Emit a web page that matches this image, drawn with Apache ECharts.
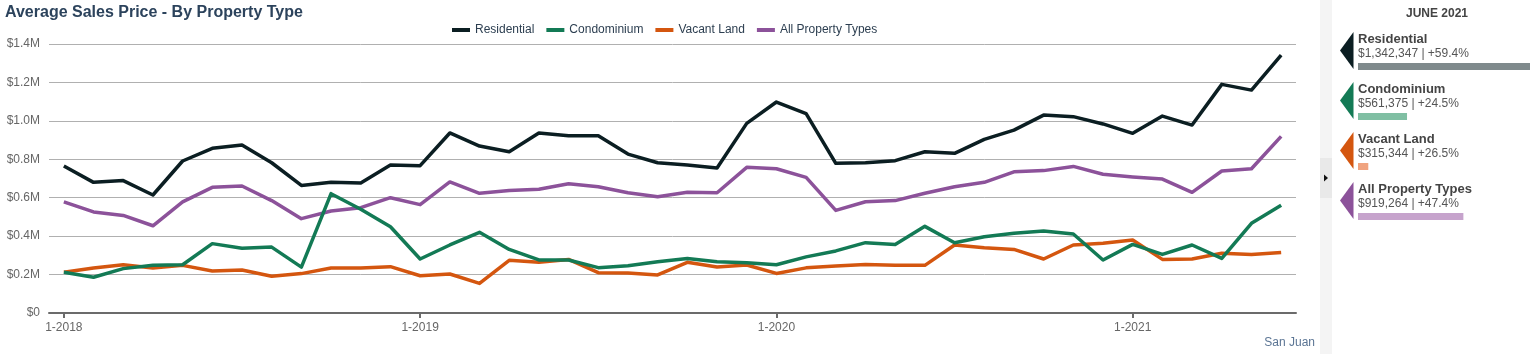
<!DOCTYPE html>
<html>
<head>
<meta charset="utf-8">
<script src="https://cdn.jsdelivr.net/npm/echarts@6/dist/echarts.min.js"></script>
<style>
html,body{margin:0;padding:0;background:#fff;}
#c{width:1535px;height:354px;}
</style>
</head>
<body>
<div id="c"></div>
<script>
const months = ["1-2018","2-2018","3-2018","4-2018","5-2018","6-2018","7-2018","8-2018","9-2018","10-2018","11-2018","12-2018",
"1-2019","2-2019","3-2019","4-2019","5-2019","6-2019","7-2019","8-2019","9-2019","10-2019","11-2019","12-2019",
"1-2020","2-2020","3-2020","4-2020","5-2020","6-2020","7-2020","8-2020","9-2020","10-2020","11-2020","12-2020",
"1-2021","2-2021","3-2021","4-2021","5-2021","6-2021"];

const residential = [765000,680000,689000,614000,791000,857000,874000,782000,664000,680000,677000,770000,
767000,937000,869000,839000,937000,923000,923000,827000,782000,770000,755000,987000,
1098000,1038000,779000,782000,793000,839000,831000,904000,952000,1030000,1022000,984000,
935000,1025000,978000,1190000,1160000,1342347];
const condominium = [212000,186000,231000,248000,251000,361000,337000,343000,239000,621000,540000,449000,
281000,354000,420000,331000,276000,276000,236000,246000,267000,284000,267000,262000,
251000,292000,323000,366000,357000,451000,366000,397000,415000,427000,411000,276000,
357000,305000,354000,284000,467000,561375];
const vacantLand = [212000,234000,251000,234000,248000,219000,224000,191000,205000,234000,234000,241000,
194000,203000,154000,274000,264000,279000,210000,208000,198000,264000,239000,250000,
206000,235000,245000,253000,248000,248000,354000,340000,331000,281000,354000,363000,
380000,279000,281000,311000,305000,315344];
const allTypes = [578000,526000,508000,454000,578000,654000,661000,585000,491000,531000,548000,600000,
564000,682000,623000,638000,644000,673000,657000,626000,605000,628000,626000,758000,
751000,706000,534000,579000,585000,623000,657000,680000,735000,741000,763000,722000,
708000,697000,628000,739000,751000,919264];

const seriesNames = ["Residential","Condominium","Vacant Land","All Property Types"];
const seriesColors = ["#0b1e22","#137a55","#d4560f","#8c529a"];
const barColors = ["#7f8a8c","#80bfa3","#f0a37f","#c6a3cc"];
const latestValues = [1342347,561375,315344,919264];
const latestChange = ["+59.4%","+24.5%","+26.5%","+47.4%"];
const panelTitle = "JUNE 2021";
const footnote = "San Juan";

const chart = echarts.init(document.getElementById('c'), null, {renderer:'canvas'});
const allData = [residential, condominium, vacantLand, allTypes];
const font = '"Liberation Sans", Arial, sans-serif';

function money(v){ return '$' + v.toString().replace(/\B(?=(\d{3})+(?!\d))/g, ','); }

const series = seriesNames.map((n,i)=>({
  name:n, type:'line', data:allData[i], xAxisIndex:0, yAxisIndex:0,
  showSymbol:false, symbol:'none', lineStyle:{width:3.5, color:seriesColors[i], join:'round'}, itemStyle:{color:seriesColors[i]},
  z: 10 - i, animation:false
}));
series.push({
  type:'bar', xAxisIndex:1, yAxisIndex:1, barWidth:7, animation:false, silent:true,
  data: latestValues.map((v,i)=>({value:v, itemStyle:{color:barColors[i]}}))
});

const graphics = [
  {type:'rect', shape:{x:1320, y:0, width:12, height:354}, style:{fill:'#f4f4f4'}},
  {type:'rect', shape:{x:1320, y:158, width:12, height:40}, style:{fill:'#e9e9e9'}},
  {type:'polygon', shape:{points:[[1324,174.5],[1328,178],[1324,181.5]]}, style:{fill:'#111'}},
  {type:'text', x:1437, y:8, style:{text:panelTitle, font:'bold 12px '+font, fill:'#444', align:'center'}},
  {type:'text', x:1315, y:337, style:{text:footnote, font:'12px '+font, fill:'#5b7594', align:'right'}}
];
seriesNames.forEach((n,i)=>{
  const y0 = 32 + i*50;
  graphics.push({type:'polygon', shape:{points:[[1353.5,y0],[1340,y0+18.5],[1353.5,y0+37]]}, style:{fill:seriesColors[i]}});
  graphics.push({type:'text', x:1358, y:y0+0.5, style:{text:n, font:'bold 13px '+font, fill:'#444'}});
  graphics.push({type:'text', x:1358, y:y0+15.5, style:{text:money(latestValues[i])+' | '+latestChange[i], font:'12px '+font, fill:'#555'}});
});

chart.setOption({
  animation:false,
  textStyle:{fontFamily:font},
  title:{text:'Average Sales Price - By Property Type', left:0, top:0,
    textStyle:{fontSize:16, fontWeight:'bold', color:'#2c435c', fontFamily:font}},
  legend:{data:seriesNames, left:447, top:19, icon:'rect', itemWidth:18, itemHeight:4, itemGap:12,
    textStyle:{fontSize:12, color:'#2c3e50', fontFamily:font}},
  grid:[
    {left:49, right:239, top:44, bottom:41},
    {left:1358, width:172, top:41.5, height:200}
  ],
  xAxis:[
    {type:'category', data:months, gridIndex:0, boundaryGap:true,
      axisLine:{lineStyle:{color:'#6b6b6b', width:2}},
      axisTick:{show:true, alignWithLabel:true, interval:(i)=>i%12===0, length:5, lineStyle:{color:'#6b6b6b', width:2}},
      axisLabel:{interval:(i)=>i%12===0, color:'#666', fontSize:12, margin:9, fontFamily:font},
      splitLine:{show:false}},
    {type:'value', gridIndex:1, min:250000, max:1342347, show:false}
  ],
  yAxis:[
    {type:'value', gridIndex:0, min:0, max:1400000, interval:200000,
      axisLine:{show:false}, axisTick:{show:false},
      axisLabel:{color:'#666', fontSize:12, margin:9, fontFamily:font,
        formatter:(v)=> v===0 ? '$0' : '$'+(v/1e6).toFixed(1)+'M'},
      splitLine:{lineStyle:{color:'#b0b0b0', width:1}}},
    {type:'category', gridIndex:1, data:seriesNames, inverse:true, show:false}
  ],
  series:series,
  graphic:graphics
});
</script>
</body>
</html>
